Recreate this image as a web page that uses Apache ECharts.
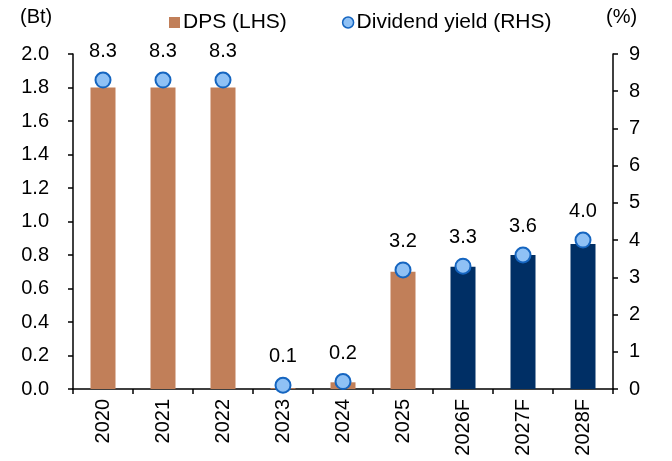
<!DOCTYPE html>
<html><head><meta charset="utf-8">
<script src="https://cdn.jsdelivr.net/npm/echarts@6/dist/echarts.min.js"></script>
<style>html,body{margin:0;padding:0;background:#fff}#c{width:672px;height:461px}</style>
</head><body><div id="c"></div>
<script>
var categories = ['2020','2021','2022','2023','2024','2025','2026F','2027F','2028F'];
var dps = [1.8, 1.8, 1.8, 0.005, 0.04, 0.70, 0.73, 0.80, 0.865];
var yieldPct = [8.3, 8.3, 8.3, 0.1, 0.2, 3.2, 3.3, 3.6, 4.0];
var forecast = [false,false,false,false,false,false,true,true,true];

var BROWN = '#C17F59', NAVY = '#002F65';
var font = 'Liberation Sans, Arial, sans-serif';
var FS = 20;
var chart = echarts.init(document.getElementById('c'));
chart.setOption({
  animation: false,
  textStyle: {fontFamily: font, color: '#000'},
  grid: {left: 73, right: 59, top: 54, bottom: 72},
  legend: {
    top: 7, left: 164, itemGap: 55, itemWidth: 11, itemHeight: 11,
    textStyle: {fontFamily: font, fontSize: 21, color: '#000', padding: [0, 0, 0, -2]},
    data: [{name: 'DPS (LHS)', icon: 'rect', itemStyle: {color: BROWN}},
           {name: 'Dividend yield (RHS)', icon: 'circle', itemStyle: {color: '#8FC1F5', borderColor: '#1565C0', borderWidth: 1.5}}]
  },
  graphic: [
    {type: 'text', left: 20, top: 7, style: {text: '(Bt)', font: FS + 'px ' + font, fill: '#000'}},
    {type: 'text', left: 606, top: 7, style: {text: '(%)', font: FS + 'px ' + font, fill: '#000'}}
  ],
  xAxis: {
    type: 'category', data: categories,
    axisLine: {lineStyle: {color: '#000', width: 1.5}},
    axisTick: {show: true, length: 5, lineStyle: {color: '#000', width: 1.5}},
    axisLabel: {rotate: 90, fontSize: FS, color: '#000', fontFamily: font, margin: 10}
  },
  yAxis: [
    {type: 'value', min: 0, max: 2.0, interval: 0.2,
     axisLine: {show: true, lineStyle: {color: '#000', width: 1.5}},
     axisTick: {show: true, length: 5, lineStyle: {color: '#000', width: 1.5}},
     splitLine: {show: false},
     axisLabel: {fontSize: FS, color: '#000', fontFamily: font, margin: 24, formatter: function(v){return v.toFixed(1);}}},
    {type: 'value', min: 0, max: 9, interval: 1,
     axisLine: {show: true, lineStyle: {color: '#000', width: 1.5}},
     axisTick: {show: true, length: 5, lineStyle: {color: '#000', width: 1.5}},
     splitLine: {show: false},
     axisLabel: {fontSize: FS, color: '#000', fontFamily: font, margin: 16}}
  ],
  series: [
    {name: 'DPS (LHS)', type: 'bar', barWidth: 25, yAxisIndex: 0,
     data: dps.map(function(v, i){return {value: v, itemStyle: {color: forecast[i] ? NAVY : BROWN}};}),
     itemStyle: {color: BROWN}},
    {name: 'Dividend yield (RHS)', type: 'line', yAxisIndex: 1, data: yieldPct,
     lineStyle: {width: 0, opacity: 0}, symbol: 'circle', symbolSize: 15,
     itemStyle: {color: '#8FC1F5', borderColor: '#1565C0', borderWidth: 2},
     label: {show: true, position: 'top', distance: 10, fontSize: FS, color: '#000', fontFamily: font,
             formatter: function(p){return p.value.toFixed(1);}}}
  ]
});
</script></body></html>
